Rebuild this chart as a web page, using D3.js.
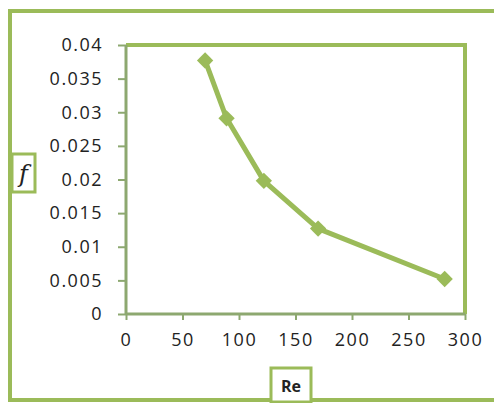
<!DOCTYPE html>
<html>
<head>
<meta charset="utf-8">
<script src="https://cdn.jsdelivr.net/npm/d3@7"></script>
<style>
  body { margin: 0; background: #fff; }
  svg { display: block; }
  .tick text { font-family: "Open Sans", sans-serif; font-size: 18px; fill: #222; letter-spacing: 1.5px; }
</style>
</head>
<body>
<div id="chart"></div>
<script>
// data
let reValues = [70, 89, 122, 170, 282]
let fValues = [0.0377, 0.0291, 0.0198, 0.0127, 0.0052]
let xTicks = [0, 50, 100, 150, 200, 250, 300]
let yTicks = [0, 0.005, 0.01, 0.015, 0.02, 0.025, 0.03, 0.035, 0.04]

let data = reValues.map((r, i) => ({ Re: r, f: fValues[i] }))

let width = 494, height = 403
let margin = { top: 45, right: 29, bottom: 89, left: 126 }
let w = width - margin.left - margin.right
let h = height - margin.top - margin.bottom

let green = "#9bbb59"
let axisColor = "#8da870"

let svgRoot = d3.select('#chart').append('svg')
    .attr('width', width)
    .attr('height', height)

// outer frame, right side runs off the picture
svgRoot.append('rect')
    .attr('x', 10).attr('y', 11)
    .attr('width', 520).attr('height', 389)
    .attr('fill', '#fff')
    .attr('stroke', green)
    .attr('stroke-width', 4)

let svg = svgRoot.append('g')
    .attr('transform', "translate(" + margin.left + "," + margin.top + ")")

let x = d3.scaleLinear().domain([0, 300]).range([0, w])
let y = d3.scaleLinear().domain([0, 0.04]).range([h, 0])

// plot area border (top + right)
svg.append('path')
    .attr('d', "M0,0H" + w + "V" + h)
    .attr('fill', 'none')
    .attr('stroke', green)
    .attr('stroke-width', 4)

let xAxis = d3.axisBottom(x).tickValues(xTicks).tickSize(6).tickPadding(13).tickFormat(d3.format('d'))
let yAxis = d3.axisLeft(y).tickValues(yTicks).tickSize(8).tickPadding(15).tickFormat(d => d == 0 ? "0" : String(+d.toFixed(3)))

let gx = svg.append('g')
    .attr('transform', "translate(0," + h + ")")
    .call(xAxis)
let gy = svg.append('g').call(yAxis)

;[gx, gy].forEach(g => {
    g.select('.domain').attr('stroke', axisColor).attr('stroke-width', 3)
    g.selectAll('.tick line').attr('stroke', axisColor).attr('stroke-width', 2)
})
gy.select('.domain').attr('d', "M0,0V" + h)
gx.select('.domain').attr('d', "M0,0H" + w)

let line = d3.line().x(d => x(d.Re)).y(d => y(d.f))

svg.append('path')
    .datum(data)
    .attr('fill', 'none')
    .attr('stroke', green)
    .attr('stroke-width', 5)
    .attr('stroke-linejoin', 'round')
    .attr('d', line)

svg.selectAll('.pt')
    .data(data)
    .enter().append('path')
    .attr('class', 'pt')
    .attr('d', d3.symbol().type(d3.symbolDiamond2).size(170))
    .attr('transform', d => "translate(" + x(d.Re) + "," + y(d.f) + ")")
    .attr('fill', green)

// axis title boxes
svgRoot.append('rect')
    .attr('x', 12).attr('y', 154).attr('width', 23).attr('height', 38)
    .attr('fill', '#fff').attr('stroke', green).attr('stroke-width', 3)
svgRoot.append('text')
    .attr('x', 23.5).attr('y', 182)
    .attr('text-anchor', 'middle')
    .style('font-family', '"DejaVu Serif", serif')
    .style('font-style', 'italic')
    .style('font-size', '24px')
    .attr('fill', '#222')
    .text('f')

svgRoot.append('rect')
    .attr('x', 271).attr('y', 368).attr('width', 40).attr('height', 34)
    .attr('fill', '#fff').attr('stroke', green).attr('stroke-width', 3)
svgRoot.append('text')
    .attr('x', 291).attr('y', 392)
    .attr('text-anchor', 'middle')
    .style('font-family', '"Open Sans", sans-serif')
    .style('font-weight', 'bold')
    .style('font-size', '16px')
    .attr('fill', '#222')
    .text('Re')
</script>
</body>
</html>
